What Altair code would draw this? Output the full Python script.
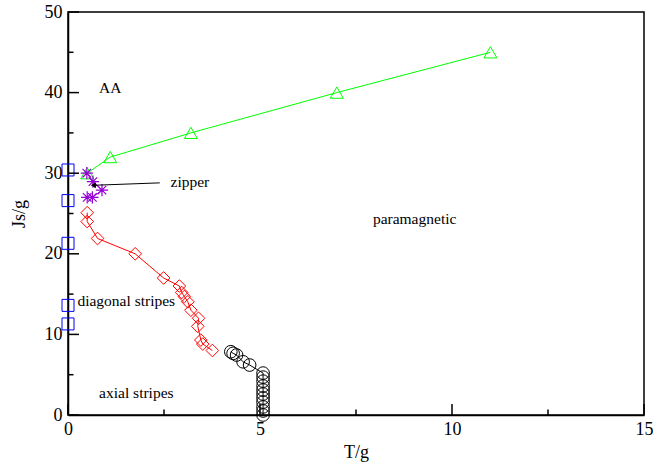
import altair as alt
import pandas as pd

# ---------------- data ----------------
aa_T = [0.5, 1.1, 3.2, 7.0, 11.0]
aa_J = [30.0, 32.0, 35.0, 40.0, 45.0]

zip_T = [0.49, 0.65, 0.885, 0.635, 0.50]
zip_J = [30.0, 28.95, 27.9, 27.0, 27.0]

sq_T = [0.0, 0.0, 0.0, 0.0, 0.0]
sq_J = [30.4, 26.6, 21.3, 13.6, 11.3]

diag_T = [0.5, 0.5, 0.77, 1.75, 2.49, 2.90, 2.96, 3.03, 3.12, 3.20, 3.40, 3.38, 3.46, 3.51, 3.76]
diag_J = [25.1, 24.0, 21.9, 20.0, 17.0, 16.0, 15.2, 14.7, 14.05, 13.0, 12.0, 11.0, 9.3, 8.8, 8.0]

circ_T = [4.24, 4.30, 4.39, 4.56, 4.73, 5.08, 5.08, 5.08, 5.08, 5.08, 5.08, 5.08, 5.08, 5.08, 5.08, 5.08]
circ_J = [7.85, 7.65, 7.44, 6.6, 6.2, 5.2, 4.7, 4.2, 3.6, 3.1, 2.6, 2.1, 1.6, 1.0, 0.5, 0.0]

arrow_T = [2.39, 0.66]
arrow_J = [28.8, 28.5]

label_text = ["AA", "zipper", "paramagnetic", "diagonal stripes", "axial stripes"]
label_T = [0.81, 2.67, 7.94, 0.245, 0.81]
label_J = [40.0, 28.3, 23.7, 13.5, 2.07]

x_major = [0, 5, 10, 15]
x_minor = [2.5, 7.5, 12.5]
y_major = [0, 10, 20, 30, 40, 50]
y_minor = [5, 15, 25, 35, 45]

# ---------------- helpers ----------------
FONT = "Liberation Serif"
xs = alt.Scale(domain=[0, 15], nice=False, zero=False)
ys = alt.Scale(domain=[0, 50], nice=False, zero=False)
xaxis = alt.Axis(values=x_major, ticks=False, grid=False, title="T/g",
                 labelFont=FONT, labelFontSize=18, labelColor="black", labelPadding=5,
                 titleFont=FONT, titleFontSize=18, titleFontWeight="normal", titleColor="black",
                 titlePadding=5, domainColor="black", domainWidth=1.5, labelFlush=False)
yaxis = alt.Axis(values=y_major, ticks=False, grid=False, title="Js/g",
                 labelFont=FONT, labelFontSize=18, labelColor="black", labelPadding=6,
                 titleFont=FONT, titleFontSize=18, titleFontWeight="normal", titleColor="black",
                 titlePadding=16, domainColor="black", domainWidth=1.5, labelFlush=False)


def X(f):
    return alt.X(f, type="quantitative", scale=xs, axis=xaxis)


def Y(f):
    return alt.Y(f, type="quantitative", scale=ys, axis=yaxis)


def df(t, j):
    return pd.DataFrame({"T": t, "J": j, "i": list(range(len(t)))})


layers = []

# green AA line
d = df(aa_T, aa_J)
layers.append(alt.Chart(d).mark_line(color="#00ff00", strokeWidth=1).encode(x=X("T"), y=Y("J"), order="i:Q"))
layers.append(alt.Chart(d).mark_point(shape="triangle-up", size=170, color="#00ff00", filled=False, strokeWidth=1, opacity=1).encode(x=X("T"), y=Y("J")))

# red diagonal line
d = df(diag_T, diag_J)
layers.append(alt.Chart(d).mark_line(color="#ff0000", strokeWidth=1).encode(x=X("T"), y=Y("J"), order="i:Q"))
layers.append(alt.Chart(d).mark_point(shape="diamond", size=160, color="#ff0000", filled=False, strokeWidth=1, opacity=1).encode(x=X("T"), y=Y("J")))

# black circles
d = df(circ_T, circ_J)
layers.append(alt.Chart(d).mark_line(color="black", strokeWidth=1).encode(x=X("T"), y=Y("J"), order="i:Q"))
layers.append(alt.Chart(d).mark_point(shape="circle", size=160, color="black", filled=False, strokeWidth=1, opacity=1).encode(x=X("T"), y=Y("J")))

# blue squares
d = df(sq_T, sq_J)
layers.append(alt.Chart(d).mark_point(shape="square", size=144, color="#0000ff", filled=False, strokeWidth=1, opacity=1).encode(x=X("T"), y=Y("J")))

# violet zipper stars
d = df(zip_T, zip_J)
layers.append(alt.Chart(d).mark_line(color="#9400d3", strokeWidth=1).encode(x=X("T"), y=Y("J"), order="i:Q"))
layers.append(alt.Chart(d).mark_point(
    shape="M -1 0 L 1 0 M 0 -1 L 0 1 M -0.7 -0.7 L 0.7 0.7 M -0.7 0.7 L 0.7 -0.7",
    size=150, color="#9400d3", filled=False, strokeWidth=1.2, opacity=1).encode(x=X("T"), y=Y("J")))

# arrow
d = df(arrow_T, arrow_J)
layers.append(alt.Chart(d).mark_line(color="black", strokeWidth=1).encode(x=X("T"), y=Y("J"), order="i:Q"))
d2 = df(arrow_T[1:], arrow_J[1:])
layers.append(alt.Chart(d2).mark_point(shape="triangle-left", size=35, color="black", filled=True, opacity=1).encode(x=X("T"), y=Y("J")))

# text labels
d = pd.DataFrame({"T": label_T, "J": label_J, "txt": label_text})
layers.append(alt.Chart(d).mark_text(font=FONT, fontSize=15.5, color="black", align="left", baseline="alphabetic").encode(
    x=X("T"), y=Y("J"), text="txt:N"))

# inward ticks
layers.append(alt.Chart(pd.DataFrame({"v": x_major})).mark_rule(color="black", strokeWidth=1.5).encode(
    x=X("v"), y=alt.value(403), y2=alt.value(392)))
layers.append(alt.Chart(pd.DataFrame({"v": x_minor})).mark_rule(color="black", strokeWidth=1.5).encode(
    x=X("v"), y=alt.value(403), y2=alt.value(397.5)))
layers.append(alt.Chart(pd.DataFrame({"v": y_major})).mark_rule(color="black", strokeWidth=1.5).encode(
    y=Y("v"), x=alt.value(0), x2=alt.value(11)))
layers.append(alt.Chart(pd.DataFrame({"v": y_minor})).mark_rule(color="black", strokeWidth=1.5).encode(
    y=Y("v"), x=alt.value(0), x2=alt.value(5.5)))

chart = alt.layer(*layers).properties(
    width=576, height=403,
    padding={"left": 68, "top": 12, "right": 9, "bottom": 60},
    autosize="none",
    background="white",
).configure_view(stroke="black", strokeWidth=1.5)

chart.save("out.html", embed_options={"renderer": "svg", "actions": False})
